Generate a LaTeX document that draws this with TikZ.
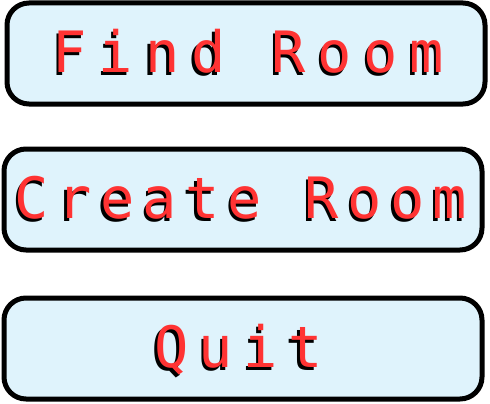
\documentclass[tikz,border=0pt]{standalone}
\usepackage{fontspec}
\usepackage{tikz}
\newfontfamily\btnfont{DejaVu Sans Mono}
\definecolor{btnfill}{RGB}{223,243,252}
\definecolor{btnred}{RGB}{255,51,51}

\begin{document}
\begin{tikzpicture}[x=1pt,y=-1pt,
  button/.style={rectangle, draw=black, line width=5pt, fill=btnfill, rounded corners=22pt, minimum width=478pt, minimum height=101pt, inner sep=0},
  btntext/.style={anchor=base, inner sep=0, font=\btnfont\fontsize{57}{60}\selectfont\addfontfeature{LetterSpace=#1}, text=btnred, yshift=-19pt},
  btnshadow/.style={btntext=#1, text=black, xshift=-2.5pt, yshift=-3pt}]

\useasboundingbox (0,0) rectangle (490,404);

%---------------------------------------------------------------
\node (find) at(246,53.5) [button]{};
\node (findshadow) at(find.center) [btnshadow=20.7, xshift=2.5pt]{Find Room};
\node (findtext) at(find.center) [btntext=20.7, xshift=2.5pt]{Find Room};

%---------------------------------------------------------------
\node (create) at(243,199.5) [button]{};
\node (createshadow) at(create.center) [btnshadow=14.6, xshift=-2pt]{Create Room};
\node (createtext) at(create.center) [btntext=14.6, xshift=-2pt]{Create Room};

%---------------------------------------------------------------
\node (quit) at(243,348.5) [button]{};
\node (quitshadow) at(quit.center) [btnshadow=18, xshift=-4.5pt]{Quit};
\node (quittext) at(quit.center) [btntext=18, xshift=-4.5pt]{Quit};

\end{tikzpicture}
\end{document}
